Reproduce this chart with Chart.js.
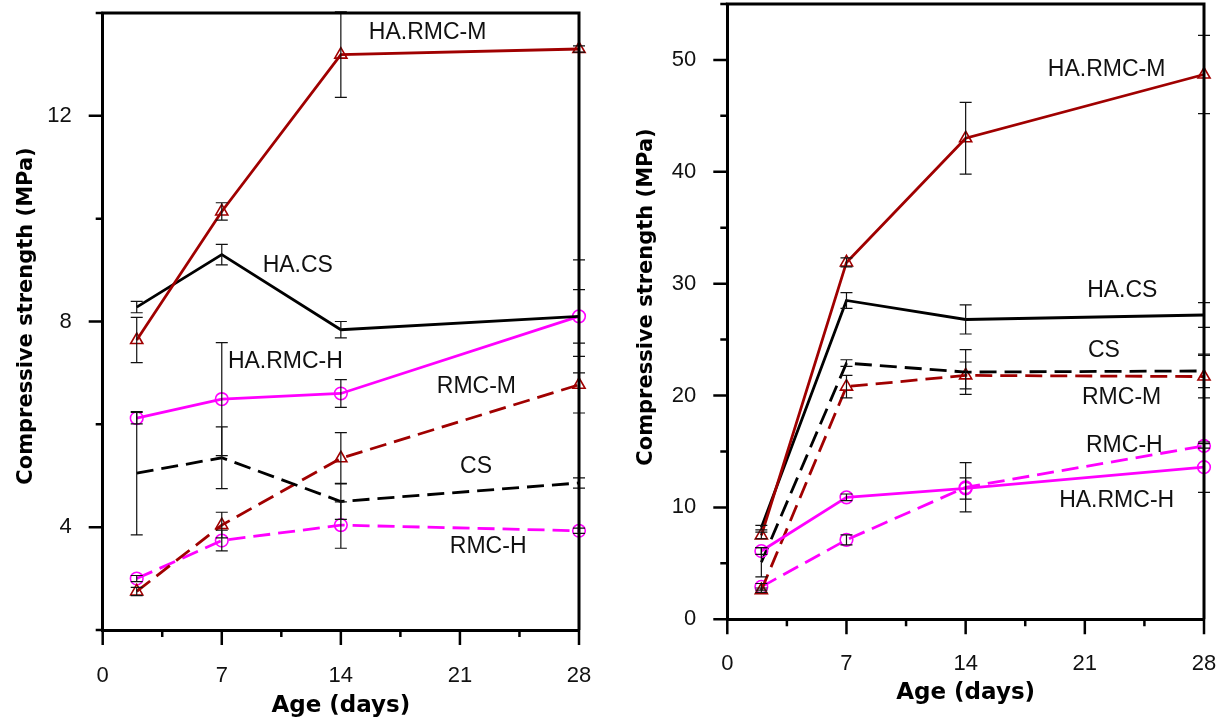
<!DOCTYPE html>
<html lang="en">
<head>
<meta charset="utf-8"/>
<script src="https://cdn.jsdelivr.net/npm/chart.js"></script>
<style>
  body { margin: 0; background: #fff; }
  #left { position: absolute; left: 0; top: 0; width: 600px; height: 726px; }
  #right { position: absolute; left: 600px; top: 0; width: 625px; height: 726px; }
</style>
</head>
<body>
<div id="left"><canvas id="chartLeft"></canvas></div>
<div id="right"><canvas id="chartRight"></canvas></div>

<script>
  // ---- data ----
  var days = [2, 7, 14, 28];
  var xTicks = [0, 7, 14, 21, 28];
  var xMinorTicks = [3.5, 10.5, 17.5, 24.5];
  var leftYTicks = [4, 8, 12];
  var leftYMinorTicks = [2, 6, 10, 14];
  var rightYTicks = [0, 10, 20, 30, 40, 50];
  var rightYMinorTicks = [5, 15, 25, 35, 45, 55];

  var seriesNames = ["HA.RMC-M", "HA.CS", "HA.RMC-H", "CS", "RMC-M", "RMC-H"];

  // left panel (MPa)
  var leftHaRmcM = [7.64, 10.14, 13.19, 13.3];
  var leftHaCs = [8.28, 9.3, 7.84, 8.1];
  var leftHaRmcH = [6.12, 6.49, 6.6, 8.1];
  var leftCs = [5.05, 5.35, 4.5, 4.86];
  var leftRmcM = [2.75, 4.04, 5.34, 6.77];
  var leftRmcH = [3.0, 3.74, 4.04, 3.93];

  var leftHaRmcMErr = [0.44, 0.17, 0.83, 0.06];
  var leftHaCsErr = [0.11, 0.2, 0.16, 0.52];
  var leftHaRmcHErr = [0.11, 1.1, 0.27, 1.1];
  var leftCsErr = [1.2, 0.6, 0.35, 0.1];
  var leftRmcMErr = [0.08, 0.25, 0.5, 0.55];
  var leftRmcHErr = [0.06, 0.2, 0.45, 0.05];

  // right panel (MPa)
  var rightHaRmcM = [7.5, 31.9, 43.0, 48.7];
  var rightHaCs = [8.2, 28.5, 26.8, 27.2];
  var rightHaRmcH = [6.1, 10.9, 11.7, 13.6];
  var rightCs = [5.1, 22.9, 22.1, 22.2];
  var rightRmcM = [2.6, 20.8, 21.8, 21.7];
  var rightRmcH = [2.9, 7.1, 11.8, 15.5];

  var rightHaRmcMErr = [0.3, 0.4, 3.2, 3.5];
  var rightHaCsErr = [0.2, 0.7, 1.3, 1.1];
  var rightHaRmcHErr = [0.3, 0.3, 0.95, 2.25];
  var rightCsErr = [1.3, 0.3, 2.0, 1.5];
  var rightRmcMErr = [0.2, 1.0, 1.2, 1.9];
  var rightRmcHErr = [0.3, 0.45, 2.2, 0.2];

  // ---- styles ----
  var dash = [17, 8];
  var seriesStyle = [
    { color: "#a00000", dash: [], point: "triangle", radius: 7 },
    { color: "#000000", dash: [], point: "circle", radius: 0 },
    { color: "#ff00ff", dash: [], point: "circle", radius: 6.3 },
    { color: "#000000", dash: dash, point: "circle", radius: 0 },
    { color: "#a00000", dash: dash, point: "triangle", radius: 7 },
    { color: "#ff00ff", dash: dash, point: "circle", radius: 6.3 },
  ];

  var tickFont = { family: "Liberation Sans", size: 22 };

  function toPoints(vals) {
    return days.map(function (d, i) { return { x: d, y: vals[i] }; });
  }

  // ticks, frame, error bars, series labels, y title
  var panelExtras = {
    id: "panelExtras",
    afterDatasetsDraw: function (chart, args, opts) {
      var ctx = chart.ctx, x = chart.scales.x, y = chart.scales.y;
      ctx.save();
      ctx.strokeStyle = "#111";
      ctx.lineWidth = 1.2;
      opts.errors.forEach(function (errs, s) {
        var vals = opts.values[s];
        days.forEach(function (d, i) {
          var px = x.getPixelForValue(d);
          var y1 = y.getPixelForValue(vals[i] + errs[i]);
          var y2 = y.getPixelForValue(vals[i] - errs[i]);
          ctx.beginPath();
          ctx.moveTo(px, y1); ctx.lineTo(px, y2);
          ctx.moveTo(px - 6, y1); ctx.lineTo(px + 6, y1);
          ctx.moveTo(px - 6, y2); ctx.lineTo(px + 6, y2);
          ctx.stroke();
        });
      });
      ctx.restore();
    },
    afterDraw: function (chart, args, opts) {
      var ctx = chart.ctx, a = chart.chartArea, x = chart.scales.x, y = chart.scales.y;
      ctx.save();
      ctx.strokeStyle = "#000";
      ctx.lineWidth = 3;
      ctx.beginPath();
      ctx.moveTo(a.left - 1.5, a.top); ctx.lineTo(a.right, a.top); ctx.lineTo(a.right, a.bottom);
      ctx.stroke();

      ctx.lineWidth = 2.5;
      ctx.beginPath();
      xTicks.forEach(function (v) { var p = x.getPixelForValue(v); ctx.moveTo(p, a.bottom); ctx.lineTo(p, a.bottom + 15); });
      xMinorTicks.forEach(function (v) { var p = x.getPixelForValue(v); ctx.moveTo(p, a.bottom); ctx.lineTo(p, a.bottom + 7); });
      opts.yMajor.forEach(function (v) { var p = y.getPixelForValue(v); ctx.moveTo(a.left, p); ctx.lineTo(a.left - 14, p); });
      opts.yMinor.forEach(function (v) { var p = y.getPixelForValue(v); ctx.moveTo(a.left, p); ctx.lineTo(a.left - 7, p); });
      ctx.stroke();

      ctx.fillStyle = "#111";
      ctx.font = "23px 'Liberation Sans'";
      ctx.textAlign = "center";
      ctx.textBaseline = "middle";
      opts.labelAt.forEach(function (pos, s) {
        ctx.fillText(seriesNames[s], x.getPixelForValue(pos[0]), y.getPixelForValue(pos[1]));
      });

      ctx.font = "bold 21px 'DejaVu Sans'";
      ctx.fillStyle = "#000";
      ctx.translate(opts.yTitle[0], opts.yTitle[1]);
      ctx.rotate(-Math.PI / 2);
      ctx.fillText("Compressive strength (MPa)", 0, 0);
      ctx.restore();
    },
  };

  // fixed axis size, and no extra room for edge labels
  function fixBox(s, w, h) {
    if (w) s.width = w;
    if (h) s.height = h;
    s.paddingTop = s.paddingBottom = s.paddingLeft = s.paddingRight = 0;
  }

  function makeChart(id, values, errors, cfg) {
    var datasets = values.map(function (vals, s) {
      var st = seriesStyle[s];
      return {
        label: seriesNames[s],
        data: toPoints(vals),
        showLine: true,
        borderColor: st.color,
        borderWidth: 2.8,
        borderDash: st.dash,
        pointStyle: st.point,
        pointRadius: st.radius,
        pointBorderWidth: 1.6,
        pointBorderColor: st.color,
        pointBackgroundColor: "rgba(0,0,0,0)",
        clip: false,
      };
    });

    return new Chart(document.getElementById(id), {
      type: "scatter",
      data: { datasets: datasets },
      plugins: [panelExtras],
      options: {
        responsive: true,
        maintainAspectRatio: false,
        animation: false,
        layout: { autoPadding: false, padding: { left: 0, right: 21, top: cfg.top, bottom: 0 } },
        plugins: {
          legend: { display: false },
          tooltip: { enabled: false },
          panelExtras: {
            values: values,
            errors: errors,
            yMajor: cfg.yTicks,
            yMinor: cfg.yMinor,
            labelAt: cfg.labelAt,
            yTitle: cfg.yTitle,
          },
        },
        scales: {
          x: {
            type: "linear",
            min: 0,
            max: 28,
            afterBuildTicks: function (s) { s.ticks = xTicks.map(function (v) { return { value: v }; }); },
            afterFit: function (s) { fixBox(s, 0, cfg.xHeight); },
            ticks: { font: tickFont, color: "#111", padding: cfg.xTickPad, maxRotation: 0 },
            grid: { display: false, drawTicks: false },
            border: { display: true, color: "#000", width: 3 },
            title: {
              display: true,
              text: "Age (days)",
              font: { family: "DejaVu Sans", size: 23, weight: "bold" },
              color: "#000",
              padding: { top: 0, bottom: cfg.xTitlePad },
            },
          },
          y: {
            type: "linear",
            min: cfg.yMin,
            max: cfg.yMax,
            afterBuildTicks: function (s) { s.ticks = cfg.yTicks.map(function (v) { return { value: v }; }); },
            afterFit: function (s) { fixBox(s, cfg.yWidth, 0); },
            ticks: { font: tickFont, color: "#111", padding: 31 },
            grid: { display: false, drawTicks: false },
            border: { display: true, color: "#000", width: 3 },
          },
        },
      },
    });
  }

  var chartLeft = makeChart(
    "chartLeft",
    [leftHaRmcM, leftHaCs, leftHaRmcH, leftCs, leftRmcM, leftRmcH],
    [leftHaRmcMErr, leftHaCsErr, leftHaRmcHErr, leftCsErr, leftRmcMErr, leftRmcHErr],
    {
      top: 13, xHeight: 96, yWidth: 102.7, xTitlePad: 6, xTickPad: 33,
      yMin: 2, yMax: 14, yTicks: leftYTicks, yMinor: leftYMinorTicks,
      yTitle: [27, 316],
      labelAt: [[19.1, 13.61], [11.47, 9.08], [10.74, 7.22], [21.95, 5.18], [21.97, 6.73], [22.66, 3.63]],
    }
  );

  var chartRight = makeChart(
    "chartRight",
    [rightHaRmcM, rightHaCs, rightHaRmcH, rightCs, rightRmcM, rightRmcH],
    [rightHaRmcMErr, rightHaCsErr, rightHaRmcHErr, rightCsErr, rightRmcMErr, rightRmcHErr],
    {
      top: 4, xHeight: 106.7, yWidth: 127.3, xTitlePad: 19, xTickPad: 31,
      yMin: 0, yMax: 55, yTicks: rightYTicks, yMinor: rightYMinorTicks,
      yTitle: [47, 297],
      labelAt: [[22.28, 49.1], [23.2, 29.34], [22.87, 10.57], [22.12, 23.98], [23.16, 19.84], [23.32, 15.49]],
    }
  );
</script>
</body>
</html>
